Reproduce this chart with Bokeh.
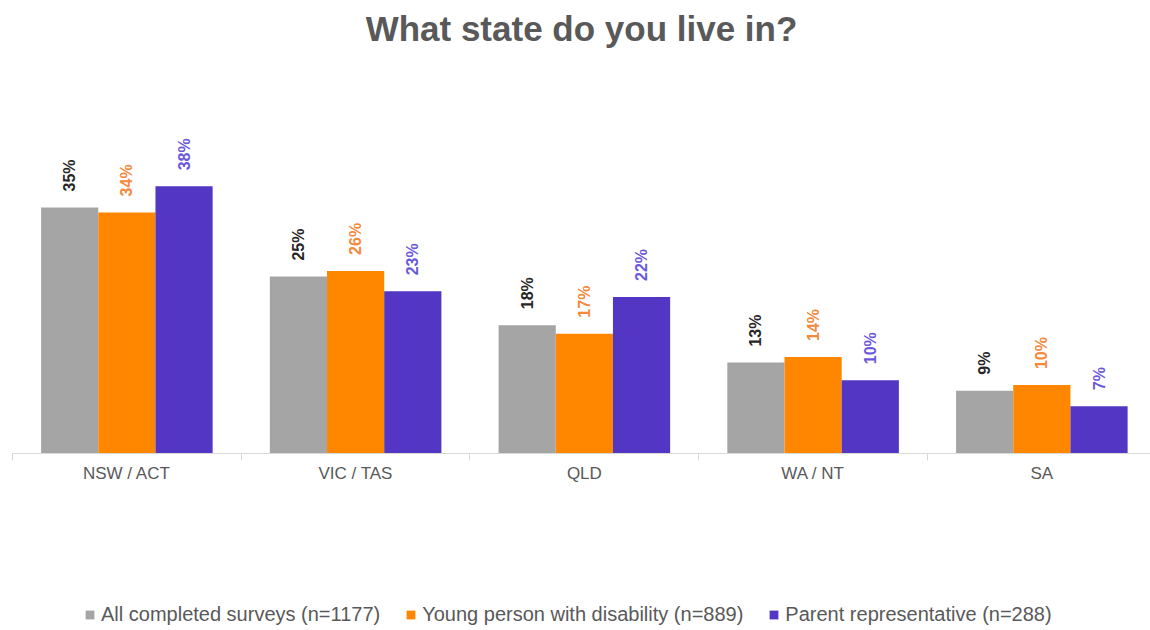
import math
from bokeh.plotting import figure
from bokeh.layouts import column
from bokeh.models import (ColumnDataSource, Range1d, FixedTicker, Legend, LegendItem)
from bokeh.core.properties import value
from bokeh.embed import file_html
from bokeh.resources import INLINE

# ---- data ----
categories = ["NSW / ACT", "VIC / TAS", "QLD", "WA / NT", "SA"]
series_names = ["All completed surveys (n=1177)",
                "Young person with disability (n=889)",
                "Parent representative (n=288)"]
all_surveys = [34.9, 25.1, 18.2, 12.9, 8.9]
young_person = [34.2, 25.9, 17.0, 13.7, 9.7]
parent_rep = [37.9, 23.0, 22.2, 10.4, 6.7]

bar_colors = ["#A5A5A5", "#FF8700", "#5337C4"]
label_colors = ["#262626", "#F5883A", "#6A58DA"]

FONT = "Liberation Sans"

p = figure(width=1150, height=580, output_backend="svg", toolbar_location=None,
           x_range=Range1d(-0.5, 4.475), y_range=Range1d(0, 56.6),
           y_axis_location=None, min_border_left=12, min_border_right=0,
           min_border_top=0, min_border_bottom=127, tools="")
p.outline_line_color = None
p.xgrid.visible = False
p.ygrid.visible = False
p.background_fill_color = "white"
p.border_fill_color = "white"

p.title.text = "What state do you live in?"
p.title.align = "center"
p.title.text_font = FONT
p.title.text_font_size = "35px"
p.title.text_font_style = "bold"
p.title.text_color = "#595959"
p.title.standoff = 13

xs = list(range(len(categories)))
series = [all_surveys, young_person, parent_rep]
offsets = [-0.25, 0.0, 0.25]
sources = []
for name, vals, off, bc, lc in zip(series_names, series, offsets, bar_colors, label_colors):
    src = ColumnDataSource(dict(
        x=[i + off for i in xs],
        top=vals,
        lab=[f"{round(v)}%" for v in vals],
    ))
    sources.append(src)
    p.vbar(x="x", top="top", width=0.25, bottom=0, source=src,
           fill_color=bc, line_color=None)
    p.text(x="x", y="top", text="lab", source=src, angle=math.pi / 2,
           text_align="left", text_baseline="middle", x_offset=0, y_offset=-16,
           text_font=value(FONT), text_font_size="16px", text_font_style="bold",
           text_color=lc)

ax = p.xaxis[0]
ax.ticker = FixedTicker(ticks=xs, minor_ticks=[-0.5, 0.5, 1.5, 2.5, 3.5, 4.5])
ax.major_label_overrides = {i: c for i, c in zip(xs, categories)}
ax.major_tick_line_color = None
ax.major_tick_out = 7
ax.major_tick_in = 0
ax.minor_tick_line_color = "#D9D9D9"
ax.minor_tick_out = 7
ax.minor_tick_in = 0
ax.axis_line_color = "#D9D9D9"
ax.major_label_standoff = 3
ax.major_label_text_font = FONT
ax.major_label_text_font_size = "17px"
ax.major_label_text_color = "#595959"

# ---- legend strip: same series, zero-width and off-view so only the legend shows ----
pl = figure(width=1150, height=50, output_backend="svg", toolbar_location=None,
            x_range=Range1d(-0.5, 4.475), y_range=Range1d(-100, -99),
            x_axis_location=None, y_axis_location=None,
            min_border=0, tools="")
pl.outline_line_color = None
pl.xgrid.visible = False
pl.ygrid.visible = False
items = []
for name, src, bc in zip(series_names, sources, bar_colors):
    r = pl.vbar(x="x", top="top", width=0, bottom=0, source=src,
                fill_color=bc, line_color=None)
    items.append(LegendItem(label=name, renderers=[r]))

legend = Legend(items=items, orientation="horizontal", location=(72, 4),
                glyph_width=11, glyph_height=11, label_standoff=6, spacing=25,
                padding=0, margin=0, border_line_color=None,
                background_fill_alpha=0,
                label_text_font=FONT, label_text_font_size="20px",
                label_text_color="#595959")
pl.add_layout(legend, "center")

layout = column(p, pl, spacing=0)
open("out.html", "w").write(file_html(layout, INLINE))
